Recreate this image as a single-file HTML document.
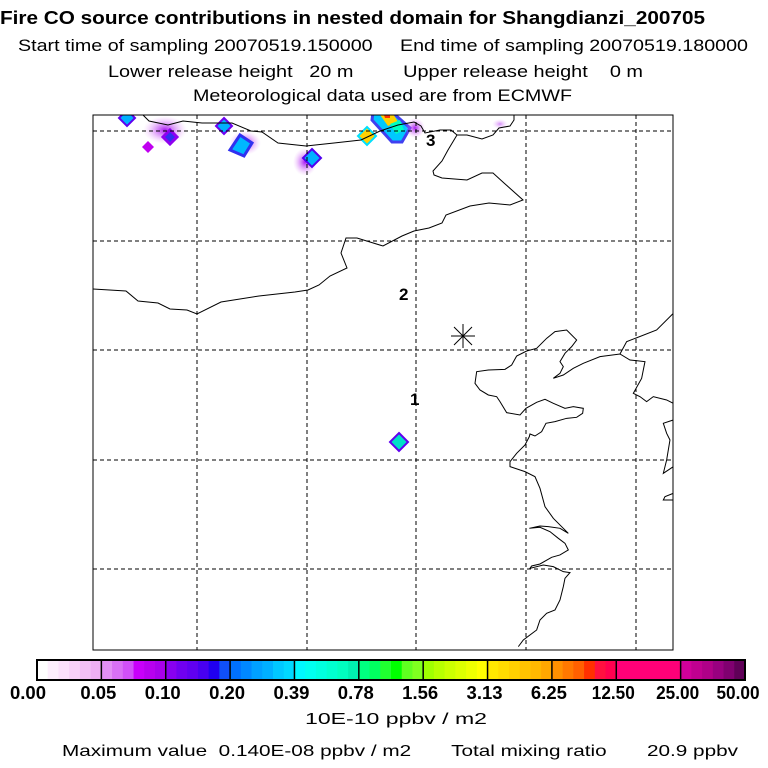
<!DOCTYPE html>
<html><head><meta charset="utf-8"><style>
html,body{margin:0;padding:0;background:#fff;}
svg{display:block;font-family:"Liberation Sans",sans-serif;}
text{white-space:pre;}
</style></head><body>
<svg width="768" height="768" viewBox="0 0 768 768">
<g fill="#000">
<text x="0" y="24" font-size="18" font-weight="bold" textLength="705" lengthAdjust="spacingAndGlyphs">Fire CO source contributions in nested domain for Shangdianzi_200705</text>
<text x="18" y="51" font-size="17" textLength="730" lengthAdjust="spacingAndGlyphs">Start time of sampling 20070519.150000     End time of sampling 20070519.180000</text>
<text x="108" y="77" font-size="17" textLength="535" lengthAdjust="spacingAndGlyphs">Lower release height   20 m         Upper release height    0 m</text>
<text x="193" y="101" font-size="17" textLength="379" lengthAdjust="spacingAndGlyphs">Meteorological data used are from ECMWF</text>
</g>
<defs><clipPath id="mc"><rect x="93" y="115" width="580" height="535"/></clipPath>
<radialGradient id="haze"><stop offset="0" stop-color="#a000f0" stop-opacity="0.9"/><stop offset="1" stop-color="#e8a0f8" stop-opacity="0"/></radialGradient></defs>
<g clip-path="url(#mc)">
<g>
<ellipse cx="165" cy="130" rx="22" ry="14" fill="url(#haze)"/>
<ellipse cx="305" cy="162" rx="12" ry="14" fill="url(#haze)"/>
<ellipse cx="245" cy="143" rx="16" ry="12" fill="url(#haze)"/>
<ellipse cx="500" cy="124" rx="8" ry="5" fill="url(#haze)" opacity="0.5"/>
<polygon points="127,110 135,118 127,126 119,118" fill="#00b0ff" stroke="#6000f0" stroke-width="2"/>
<polygon points="148,141 154,147 148,153 142,147" fill="#c000f0"/>
<polygon points="170,130 177,137 170,144 163,137" fill="#3030f0" stroke="#9000f0" stroke-width="3"/>
<polygon points="224,118 232,126 224,134 216,126" fill="#00b0ff" stroke="#7000f0" stroke-width="2"/>
<polygon points="240,135 252,143 244,156 230,150" fill="#00b8ff" stroke="#3030f0" stroke-width="3"/>
<polygon points="312,149 321,158 312,167 303,158" fill="#00b0ff" stroke="#5000f0" stroke-width="2"/>
<polygon points="373,112 392,112 410,128 402,142 392,142 372,120" fill="#00c8ff" stroke="#4040f0" stroke-width="3"/>
<polygon points="378,112 392,112 398,122 388,126" fill="#ffd000"/>
<polygon points="383,112 390,112 390,118 385,118" fill="#ff3000"/>
<polygon points="390,124 400,120 404,130 396,134" fill="#00ffc0"/>
<ellipse cx="415" cy="128" rx="10" ry="10" fill="url(#haze)"/>
<polygon points="367,127 376,136 367,145 358,136" fill="#ffd000" stroke="#00e0ff" stroke-width="2"/>
<polygon points="399,433 408,442 399,451 390,442" fill="#00e0c8" stroke="#6000f0" stroke-width="2"/>
</g>
<g stroke="#000" stroke-width="1" stroke-dasharray="4,3">
<line x1="197" y1="115" x2="197" y2="650"/><line x1="307" y1="115" x2="307" y2="650"/><line x1="416" y1="115" x2="416" y2="650"/><line x1="526" y1="115" x2="526" y2="650"/><line x1="636" y1="115" x2="636" y2="650"/>
<line x1="93" y1="131" x2="673" y2="131"/><line x1="93" y1="241" x2="673" y2="241"/><line x1="93" y1="350" x2="673" y2="350"/><line x1="93" y1="460" x2="673" y2="460"/><line x1="93" y1="569" x2="673" y2="569"/>
</g>
<g fill="none" stroke="#000" stroke-width="1">
<polyline points="143,115 149,121 168,125 183,121 202,123 232,123 251,131 262,132 278,143 306,146 334,143 361,140 380,131 398,125 414,122 421,126 425,133 440,130 451,130 457,135 467,135 482,139 493,135 499,128 510,126 514,120 514,115"/>
<polyline points="92,289 126,291 138,301 158,303 170,309 187,310 197,314 221,302 259,296 295,292 308,290 319,285 330,276 347,268 341,253 346,238 357,238 383,246 402,236 414,231 429,228 442,223 446,215 470,206 489,203 510,205 523,200 504,183 493,173 482,173 467,180 442,178 434,175 433,171 442,161 448,150 457,135"/>
<g transform="translate(400,280) scale(0.3333)"><polyline vector-effect="non-scaling-stroke" points="820,370 800,360 760,350 740,365 720,350 700,340 725,295 735,245 690,240 660,222 600,230 550,250 520,265 490,285 460,295 480,280 490,260 480,245 495,220 515,200 530,180 500,150 465,155 440,175 410,205 380,213 350,228 335,255 315,268 265,270 230,275 225,310 240,330 265,345 290,350 300,365 320,398 360,405 378,385 410,367 435,358 460,370 495,385 520,380 550,385 548,400 530,412 500,415 465,425 438,430 425,455 405,468 390,462 388,470 375,495 350,520 330,545 330,560 375,575 405,590 420,625 435,680 460,715 505,760 480,745 445,740 420,738 388,745 420,742 450,755 475,775 495,790 505,810 480,825 455,832 420,852 395,858 390,865 430,855 460,860 490,875 510,878 495,895 490,920 480,960 465,990 440,1000 420,1020 410,1050 370,1080 355,1100"/>
<polyline vector-effect="non-scaling-stroke" points="660,222 680,185 770,150 820,100"/>
<polyline vector-effect="non-scaling-stroke" points="820,420 790,430 800,460 810,480 800,540 790,580 820,560"/>
<polyline vector-effect="non-scaling-stroke" points="820,640 795,650 790,660 820,660"/></g>
</g>
<g stroke="#000" stroke-width="1">
<line x1="451" y1="336" x2="475" y2="336"/><line x1="463" y1="324" x2="463" y2="348"/><line x1="454" y1="327" x2="472" y2="345"/><line x1="472" y1="327" x2="454" y2="345"/>
</g>
<g font-size="17" font-weight="bold" fill="#000">
<text x="410" y="405">1</text><text x="399" y="300">2</text><text x="426" y="146">3</text>
</g>
</g>
<rect x="93" y="115" width="580" height="535" fill="none" stroke="#000" stroke-width="1"/>
<g id="cbar"></g>
<text x="305" y="724" font-size="16" textLength="182" lengthAdjust="spacingAndGlyphs">10E-10 ppbv / m2</text>
<text x="62" y="756" font-size="16" textLength="676" lengthAdjust="spacingAndGlyphs">Maximum value  0.140E-08 ppbv / m2       Total mixing ratio       20.9 ppbv</text>
</svg>
<script>
const levelLabels = ["0.00","0.05","0.10","0.20","0.39","0.78","1.56","3.13","6.25","12.50","25.00","50.00"];
const cellColors = [
"#ffffff","#fdeefd","#fbe0fb","#f8d0f8","#f3c0f6","#eeb0f4",
"#e290f5","#d870f5","#d050f8","#c800fa","#b800f0","#a800ec",
"#8800f0","#7000f0","#6000f0","#4800f0","#2000f0","#1050f8",
"#0070ff","#0088ff","#00a0ff","#00b0ff","#00c8ff","#00d8ff",
"#00f8ff","#00fff0","#00ffe0","#00ffd0","#00ffc0","#00f0b0",
"#00ff80","#00ff60","#20ff30","#00ff00","#60ff20","#80ff20",
"#a0ff00","#b8ff00","#ccff00","#ddff00","#eeff00","#ffff00",
"#ffe800","#ffdc00","#ffd000","#ffc400","#ffb800","#ffa800",
"#ff9000","#ff7800","#ff6000","#ff3000","#ff1040","#ff0050",
"#ff0078","#ff0078","#ff0078","#ff0078","#ff0078","#ff0078",
"#d0009a","#c00090","#b00088","#980080","#800070","#600058"];
const NS="http://www.w3.org/2000/svg";
const g=document.getElementById('cbar');
const x0=37,x1=745,y0=660,h=20;
const nSeg=levelLabels.length-1;
const segW=(x1-x0)/nSeg, cellW=segW*nSeg/cellColors.length;
function xOf(i){return x0+i*cellW;}
cellColors.forEach((c,i)=>{
 const r=document.createElementNS(NS,'rect');
 
 
 r.setAttribute('x',xOf(i));r.setAttribute('y',y0);r.setAttribute('width',cellW+0.5);r.setAttribute('height',h);r.setAttribute('fill',c);
 g.appendChild(r);
});
for(let k=0;k<=nSeg;k++){
 const x=x0+k*segW;
 const l=document.createElementNS(NS,'line');
 
 
 l.setAttribute('x1',x);l.setAttribute('x2',x);l.setAttribute('y1',y0);l.setAttribute('y2',y0+h);l.setAttribute('stroke','#000');l.setAttribute('stroke-width','1.5');
 g.appendChild(l);
 const t=document.createElementNS(NS,'text');
 
 
 let tx=x-3; if(k===0)tx=28; if(k===nSeg)tx=738;
 t.setAttribute('x',tx);t.setAttribute('y',699);t.setAttribute('text-anchor','middle');t.setAttribute('font-size','18');t.setAttribute('font-weight','bold');
 t.setAttribute('textLength',levelLabels[k].length>4?43:36);t.setAttribute('lengthAdjust','spacingAndGlyphs');
 t.textContent=levelLabels[k];
 g.appendChild(t);
}
const fr=document.createElementNS(NS,'rect');


fr.setAttribute('x',x0);fr.setAttribute('y',y0);fr.setAttribute('width',x1-x0);fr.setAttribute('height',h);fr.setAttribute('fill','none');fr.setAttribute('stroke','#000');fr.setAttribute('stroke-width','2');
g.appendChild(fr);
</script>
</body></html>
